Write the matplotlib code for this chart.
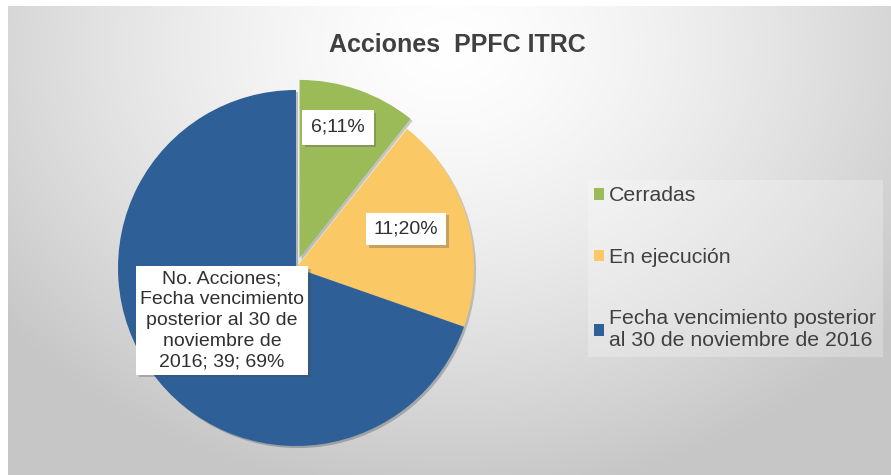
import numpy as np
import matplotlib
matplotlib.use('Agg')
import matplotlib.pyplot as plt
import matplotlib.patheffects as pe

plt.rcParams['font.family'] = ['Liberation Sans', 'DejaVu Sans']

categories = ['Cerradas', 'En ejecución',
              'Fecha vencimiento posterior\nal 30 de noviembre de 2016']
counts = [6, 11, 39]
pct_labels = ['6;11%', '11;20%',
              'No. Acciones;\nFecha vencimiento\nposterior al 30 de\nnoviembre de\n2016; 39; 69%']
colors = ['#9BBB59', '#FAC865', '#2E5F96']

W, H = 891, 475
fig = plt.figure(figsize=(W / 100, H / 100), dpi=100)

# radial grey background, white margin top / left
bg = fig.add_axes([8 / W, 0, 1 - 8 / W, 1 - 6 / H])
bg.set_axis_off()
yy, xx = np.mgrid[0:470, 0:883]
d = np.sqrt(((xx - 440) / 1.0) ** 2 + ((yy - 40) / 0.8) ** 2)
g = 1.0 - 0.22 * np.clip(d / 560, 0, 1) ** 1.4
bg.imshow(np.dstack([g, g, g]), aspect='auto', extent=[0, 1, 0, 1])

# pie: centre (296, 268) px, radius 178 px
cx, cy, r = 296, 268, 178
ax = fig.add_axes([(cx - r) / W, (H - cy - r) / H, 2 * r / W, 2 * r / H])
wedges, _ = ax.pie(counts, colors=colors, startangle=90, counterclock=False,
                   explode=[0.06, 0, 0], radius=1.0,
                   wedgeprops=dict(linewidth=0))
ax.set_xlim(-1, 1)
ax.set_ylim(-1, 1)
ax.set_axis_off()
for w in wedges:
    w.set_clip_on(False)
    w.set_path_effects([pe.SimplePatchShadow(offset=(1.5, -1.5), alpha=0.25),
                        pe.Normal()])

label_pos = [(0.236, 0.79), (0.618, 0.22), (-0.416, -0.295)]
label_pad = [0.45, 0.4, 0.2]
for (x, y), txt, p in zip(label_pos, pct_labels, label_pad):
    t = ax.text(x, y, txt, ha='center', va='center', fontsize=14,
                color='#303030', linespacing=1.3,
                bbox=dict(boxstyle='square,pad=%s' % p, fc='white', ec='none'))
    t.get_bbox_patch().set_path_effects(
        [pe.SimplePatchShadow(offset=(2, -2), alpha=0.3), pe.Normal()])

fig.text(457 / W, 1 - 45 / H, 'Acciones  PPFC ITRC', ha='center', va='center',
         fontsize=18, fontweight='bold', color='#404040')

handles = [plt.Rectangle((0, 0), 1, 1, fc=c, ec='none') for c in colors]
leg = fig.legend(handles, categories, loc='upper left',
                 bbox_to_anchor=(588 / W, 1 - 180 / H), frameon=True,
                 fontsize=15.3, labelspacing=2.0, handlelength=0.45,
                 handleheight=0.45, handletextpad=0.25, borderpad=0.3,
                 borderaxespad=0, labelcolor='#404040')
leg.get_frame().set_facecolor('white')
leg.get_frame().set_alpha(0.25)
leg.get_frame().set_edgecolor('none')
leg.get_frame().set_boxstyle('square', pad=0)

fig.savefig('out.png', dpi=100)
